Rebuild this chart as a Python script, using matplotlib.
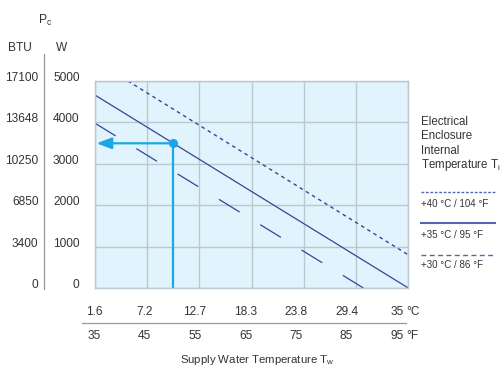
import numpy as np
import matplotlib
matplotlib.use("Agg")
import matplotlib.pyplot as plt
from matplotlib.lines import Line2D
from matplotlib.transforms import blended_transform_factory, ScaledTranslation

plt.rcParams["font.family"] = ["Liberation Sans", "DejaVu Sans"]
plt.rcParams["mathtext.fontset"] = "custom"
plt.rcParams["mathtext.rm"] = "Liberation Sans"
plt.rcParams["lines.scale_dashes"] = False

# Data
temp_f = [35, 45, 55, 65, 75, 85, 95]
temp_c_labels = ["1.6", "7.2", "12.7", "18.3", "23.8", "29.4", "35"]
power_w = [0, 1000, 2000, 3000, 4000, 5000]
power_btu_labels = ["0", "3400", "6850", "10250", "13648", "17100"]

# lines: supply water temperature (°F) -> cooling power (W)
line40_x = [41.3, 95]
line40_y = [5000, 800]
line35_x = [35, 95]
line35_y = [4660, 0]
line30_x = [35, 86.4]
line30_y = [3980, 0]

# example operating point
op_x = 50
op_y = 3495

legend_labels = ["+40 °C / 104 °F", "+35 °C / 95 °F", "+30 °C / 86 °F"]

W, H = 500, 382
fig = plt.figure(figsize=(W / 100, H / 100), dpi=100)
ax = fig.add_axes([95 / W, 1 - 288 / H, 313.3 / W, 207 / H])

line_col = "#34469a"
cyan = "#1aa7e6"
grid_col = "#bcc8d0"
txt_col = "#333333"

ax.set_facecolor("#e1f3fc")
ax.set_xlim(35, 95)
ax.set_ylim(0, 5000)
ax.set_xticks(temp_f)
ax.set_yticks(power_w)
ax.grid(True, color=grid_col, lw=1.0)
ax.tick_params(length=0, labelbottom=False, labelleft=False)
for s in ax.spines.values():
    s.set_color(grid_col)
    s.set_linewidth(1.0)

ax.plot(line40_x, line40_y, color=line_col, lw=1.0, dashes=(2.6, 2.6))
ax.plot(line35_x, line35_y, color=line_col, lw=0.9)
ax.plot(line30_x, line30_y, color=line_col, lw=0.9, dashes=(17.5, 17.4))

# cyan reading
ax.plot([op_x, op_x], [0, op_y], color=cyan, lw=1.6, solid_capstyle="butt")
ax.annotate("", xy=(35.3, op_y), xytext=(op_x, op_y),
            arrowprops=dict(arrowstyle="-|>,head_length=0.45,head_width=0.17",
                            color=cyan, lw=1.6, mutation_scale=20,
                            shrinkA=0, shrinkB=0))
ax.plot([op_x], [op_y], "o", color=cyan, ms=5.5)

# left axis labels (two columns)
off = ScaledTranslation(0, 3 / 100, fig.dpi_scale_trans)
tr = blended_transform_factory(fig.transFigure, ax.transData) + off
for w, b in zip(power_w, power_btu_labels):
    fig.text(38.5 / W, w, b, transform=tr, ha="right", va="center",
             fontsize=8.6, color=txt_col)
    fig.text(79.5 / W, w, str(w), transform=tr, ha="right", va="center",
             fontsize=8.6, color=txt_col)

fig.text(20 / W, 1 - 48 / H, "BTU", ha="center", va="center", fontsize=8.6, color=txt_col)
fig.text(62 / W, 1 - 48 / H, "W", ha="center", va="center", fontsize=8.6, color=txt_col)
fig.text(45 / W, 1 - 20 / H, r"P$_\mathregular{c}$", ha="center", va="center",
         fontsize=8.8, color=txt_col)
fig.add_artist(Line2D([44.3 / W, 44.3 / W], [1 - 54 / H, 1 - 289 / H],
                      transform=fig.transFigure, color="#999999", lw=0.9))

# bottom axis labels (°C row, °F row)
for i, (f, c) in enumerate(zip(temp_f, temp_c_labels)):
    xp = (94 + i * 50.5) / W
    fig.text(xp, 1 - 311.7 / H, c, ha="center", va="center", fontsize=8.6, color=txt_col)
    fig.text(xp, 1 - 336 / H, str(f), ha="center", va="center", fontsize=8.6, color=txt_col)
fig.text(406 / W, 1 - 311.7 / H, "°C", ha="left", va="center", fontsize=8.6, color=txt_col)
fig.text(406 / W, 1 - 336 / H, "°F", ha="left", va="center", fontsize=8.6, color=txt_col)
fig.add_artist(Line2D([81.7 / W, 406 / W], [1 - 323.3 / H, 1 - 323.3 / H],
                      transform=fig.transFigure, color="#999999", lw=0.9))
fig.text(257 / W, 1 - 360 / H, r"Supply Water Temperature T$_\mathregular{w}$",
         ha="center", va="center", fontsize=8.2, color=txt_col)

# legend
title_lines = ["Electrical", "Enclosure", "Internal", r"Temperature T$_\mathregular{i}$"]
for k, t in enumerate(title_lines):
    fig.text(421 / W, 1 - (121.7 + k * 14.4) / H, t, ha="left", va="center",
             fontsize=8.3, color=txt_col)

leg_styles = [dict(lw=1.0, dashes=(2.0, 1.2)),
              dict(lw=1.5),
              dict(lw=1.0, dashes=(3.5, 2.5))]
leg_line_y = [191.7, 223.3, 255]
leg_text_y = [204, 234.5, 265]
for lab, st, ly, ty in zip(legend_labels, leg_styles, leg_line_y, leg_text_y):
    fig.add_artist(Line2D([421 / W, 495 / W], [1 - ly / H, 1 - ly / H],
                          transform=fig.transFigure, color="#5566b0", **st))
    fig.text(421 / W, 1 - ty / H, lab, ha="left", va="center", fontsize=7.0, color=txt_col)

fig.savefig("out.png", dpi=100)
